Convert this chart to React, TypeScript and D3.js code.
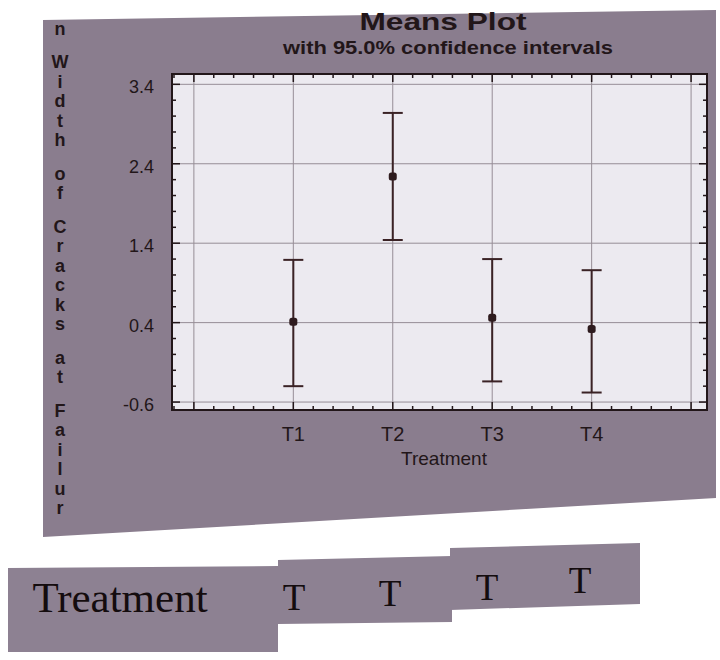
import React from "react";
import * as d3 from "d3";

const categories = ["T1", "T2", "T3", "T4"];
const means = [0.41, 2.24, 0.46, 0.32];
const lowerCI = [-0.4, 1.44, -0.34, -0.48];
const upperCI = [1.19, 3.04, 1.2, 1.06];
const yTickValues = [-0.6, 0.4, 1.4, 2.4, 3.4];
const xGridValues = [0, 1, 2, 3, 4, 5];
const title = "Means Plot";
const subtitle = "with 95.0% confidence intervals";
const xTitle = "Treatment";
const yTitleTop = "n";
const yTitle = "Width of Cracks at Failur";
const tableHeaders = ["Treatment", "T", "T", "T", "T"];

const W = 720;
const H = 660;
const plot = { left: 172, right: 707, top: 74, bottom: 410 };

const ink = "#221619";
const panelFill = "#8a7d8e";
const paperFill = "#8d8192";

export default function App() {
  const x = d3.scaleLinear().domain([-0.22, 5.16]).range([plot.left, plot.right]);
  const y = d3.scaleLinear().domain([-0.7, 3.53]).range([plot.bottom, plot.top]);

  const xMinor = d3.range(-0.2, 5.16, 0.2).filter((v) => v >= -0.22 && v <= 5.16);
  const yMinor = d3.range(-0.6, 3.53, 0.2).filter((v) => v >= -0.7 && v <= 3.53);
  const isMajor = (v: number, majors: number[]) => majors.some((m) => Math.abs(m - v) < 1e-6);
  const fmt = (v: number) => d3.format(".1f")(v).replace("\u2212", "-");

  // stacked y title letters
  const letters: { ch: string; yPos: number }[] = [];
  let pos = 62;
  for (const ch of yTitle) {
    if (ch === " ") {
      pos += 14;
      continue;
    }
    letters.push({ ch, yPos: pos });
    pos += 19.5;
  }

  const tableX = [120, 294, 390, 487, 580];
  const tableY = [612, 610, 606, 600, 593];

  return (
    <svg
      width={W}
      height={H}
      viewBox={`0 0 ${W} ${H}`}
      style={{ position: "absolute", left: 0, top: 0, background: "#ffffff" }}
    >
      {/* photographed panel */}
      <polygon points="43,20 716,10 716,498 43,537" fill={panelFill} />

      {/* titles */}
      <text
        x={443}
        y={30}
        textAnchor="middle"
        fontFamily="Liberation Sans, Arial, sans-serif"
        fontWeight="bold"
        fontSize={24}
        fill={ink}
        textLength={167}
        lengthAdjust="spacingAndGlyphs"
      >
        {title}
      </text>
      <text
        x={448}
        y={54}
        textAnchor="middle"
        fontFamily="Liberation Sans, Arial, sans-serif"
        fontWeight="bold"
        fontSize={18}
        fill={ink}
        textLength={330}
        lengthAdjust="spacingAndGlyphs"
      >
        {subtitle}
      </text>

      {/* y title stacked */}
      <g
        fontFamily="Liberation Sans, Arial, sans-serif"
        fontSize={18}
        fontWeight="bold"
        fill={ink}
        textAnchor="middle"
      >
        <text x={60} y={29} dominantBaseline="central">
          {yTitleTop}
        </text>
        {letters.map((l, i) => (
          <text key={i} x={60} y={l.yPos} dominantBaseline="central">
            {l.ch}
          </text>
        ))}
      </g>

      {/* plot area */}
      <rect
        x={plot.left}
        y={plot.top}
        width={plot.right - plot.left}
        height={plot.bottom - plot.top}
        fill="#eceaf0"
      />

      {/* grid */}
      <g stroke="#968d96" strokeWidth={1}>
        {yTickValues.map((v) => (
          <line key={"gy" + v} x1={plot.left} x2={plot.right} y1={y(v)} y2={y(v)} />
        ))}
        {xGridValues.map((v) => (
          <line key={"gx" + v} x1={x(v)} x2={x(v)} y1={plot.top} y2={plot.bottom} />
        ))}
      </g>

      {/* ticks (inward, all four sides) */}
      <g stroke={ink} strokeWidth={1.5}>
        {xMinor.map((v, i) => {
          const len = isMajor(v, xGridValues) ? 8 : 4;
          return (
            <g key={"tx" + i}>
              <line x1={x(v)} x2={x(v)} y1={plot.top} y2={plot.top + len} />
              <line x1={x(v)} x2={x(v)} y1={plot.bottom} y2={plot.bottom - len} />
            </g>
          );
        })}
        {yMinor.map((v, i) => {
          const len = isMajor(v, yTickValues) ? 8 : 4;
          return (
            <g key={"ty" + i}>
              <line x1={plot.left} x2={plot.left + len} y1={y(v)} y2={y(v)} />
              <line x1={plot.right} x2={plot.right - len} y1={y(v)} y2={y(v)} />
            </g>
          );
        })}
      </g>

      {/* frame */}
      <rect
        x={plot.left}
        y={plot.top}
        width={plot.right - plot.left}
        height={plot.bottom - plot.top}
        fill="none"
        stroke={ink}
        strokeWidth={2}
      />

      {/* error bars */}
      <g stroke="#3a2225" strokeWidth={2}>
        {categories.map((c, i) => {
          const cx = x(i + 1);
          return (
            <g key={c}>
              <line x1={cx} x2={cx} y1={y(lowerCI[i])} y2={y(upperCI[i])} />
              <line x1={cx - 10} x2={cx + 10} y1={y(upperCI[i])} y2={y(upperCI[i])} />
              <line x1={cx - 10} x2={cx + 10} y1={y(lowerCI[i])} y2={y(lowerCI[i])} />
            </g>
          );
        })}
      </g>
      <g fill="#2e1b1e">
        {categories.map((c, i) => (
          <rect key={c} x={x(i + 1) - 4} y={y(means[i]) - 4} width={8} height={8} rx={2.5} />
        ))}
      </g>

      {/* y tick labels */}
      <g fontFamily="Liberation Sans, Arial, sans-serif" fontSize={18} fill={ink} textAnchor="end">
        {yTickValues.map((v) => (
          <text key={"yl" + v} x={154} y={y(v)} dy="0.5em">
            {fmt(v)}
          </text>
        ))}
      </g>

      {/* x tick labels */}
      <g fontFamily="Liberation Sans, Arial, sans-serif" fontSize={20} fill={ink} textAnchor="middle">
        {categories.map((c, i) => (
          <text key={"xl" + c} x={x(i + 1)} y={441}>
            {c}
          </text>
        ))}
      </g>
      <text
        x={444}
        y={465}
        textAnchor="middle"
        fontFamily="Liberation Sans, Arial, sans-serif"
        fontSize={19}
        fill={ink}
      >
        {xTitle}
      </text>

      {/* table strip below */}
      <g fill={paperFill}>
        <polygon points="8,568 278,566 278,652 8,652" />
        <polygon points="278,560 452,556 452,622 278,624" />
        <polygon points="450,548 640,543 640,604 450,610" />
      </g>
      <g fontFamily="Liberation Serif, Times New Roman, serif" fill="#140c0e" textAnchor="middle">
        {tableHeaders.map((t, i) => (
          <text key={"th" + i} x={tableX[i]} y={tableY[i]} fontSize={i === 0 ? 43 : 37}>
            {t}
          </text>
        ))}
      </g>
    </svg>
  );
}
